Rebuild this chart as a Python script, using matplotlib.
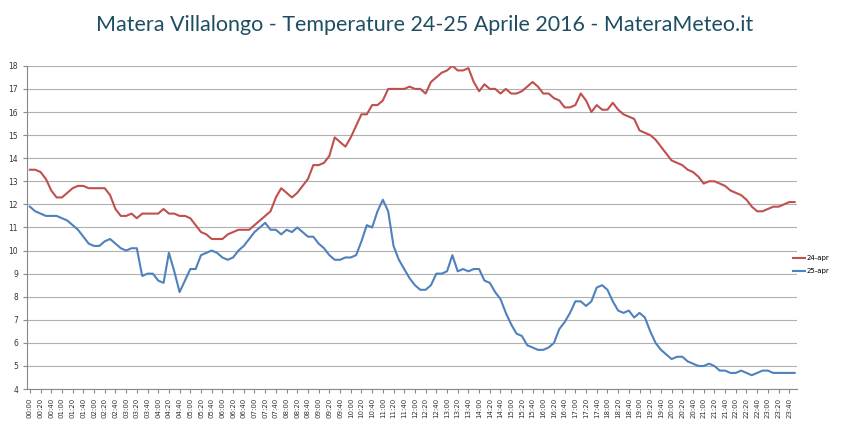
import matplotlib
matplotlib.use("Agg")
import matplotlib.pyplot as plt

times = [f"{h:02d}:{m:02d}" for h in range(24) for m in range(0, 60, 10)]
apr24 = [13.5,13.5,13.4,13.1,12.6,12.3, 12.3,12.5,12.7,12.8,12.8,12.7,
         12.7,12.7,12.7,12.4,11.8,11.5, 11.5,11.6,11.4,11.6,11.6,11.6,
         11.6,11.8,11.6,11.6,11.5,11.5, 11.4,11.1,10.8,10.7,10.5,10.5,
         10.5,10.7,10.8,10.9,10.9,10.9, 11.1,11.3,11.5,11.7,12.3,12.7,
         12.5,12.3,12.5,12.8,13.1,13.7, 13.7,13.8,14.1,14.9,14.7,14.5,
         14.9,15.4,15.9,15.9,16.3,16.3, 16.5,17.0,17.0,17.0,17.0,17.1,
         17.0,17.0,16.8,17.3,17.5,17.7, 17.8,18.0,17.8,17.8,17.9,17.3,
         16.9,17.2,17.0,17.0,16.8,17.0, 16.8,16.8,16.9,17.1,17.3,17.1,
         16.8,16.8,16.6,16.5,16.2,16.2, 16.3,16.8,16.5,16.0,16.3,16.1,
         16.1,16.4,16.1,15.9,15.8,15.7, 15.2,15.1,15.0,14.8,14.5,14.2,
         13.9,13.8,13.7,13.5,13.4,13.2, 12.9,13.0,13.0,12.9,12.8,12.6,
         12.5,12.4,12.2,11.9,11.7,11.7, 11.8,11.9,11.9,12.0,12.1,12.1]
apr25 = [11.9,11.7,11.6,11.5,11.5,11.5, 11.4,11.3,11.1,10.9,10.6,10.3,
         10.2,10.2,10.4,10.5,10.3,10.1, 10.0,10.1,10.1,8.9,9.0,9.0,
         8.7,8.6,9.9,9.1,8.2,8.7, 9.2,9.2,9.8,9.9,10.0,9.9,
         9.7,9.6,9.7,10.0,10.2,10.5, 10.8,11.0,11.2,10.9,10.9,10.7,
         10.9,10.8,11.0,10.8,10.6,10.6, 10.3,10.1,9.8,9.6,9.6,9.7,
         9.7,9.8,10.4,11.1,11.0,11.7, 12.2,11.7,10.2,9.6,9.2,8.8,
         8.5,8.3,8.3,8.5,9.0,9.0, 9.1,9.8,9.1,9.2,9.1,9.2,
         9.2,8.7,8.6,8.2,7.9,7.3, 6.8,6.4,6.3,5.9,5.8,5.7,
         5.7,5.8,6.0,6.6,6.9,7.3, 7.8,7.8,7.6,7.8,8.4,8.5,
         8.3,7.8,7.4,7.3,7.4,7.1, 7.3,7.1,6.5,6.0,5.7,5.5,
         5.3,5.4,5.4,5.2,5.1,5.0, 5.0,5.1,5.0,4.8,4.8,4.7,
         4.7,4.8,4.7,4.6,4.7,4.8, 4.8,4.7,4.7,4.7,4.7,4.7]
series_labels = ["24-apr", "25-apr"]
yticks = list(range(4, 19))

fig = plt.figure(figsize=(8.5, 4.22), dpi=100)
ax = fig.add_axes([0.032, 0.078, 0.906, 0.766])
x = list(range(len(times)))
ax.plot(x, apr24, color="#c0504d", lw=1.5, label=series_labels[0])
ax.plot(x, apr25, color="#4f81bd", lw=1.5, label=series_labels[1])
ax.set_xlim(-0.5, len(times) - 0.5)
ax.set_ylim(4, 18)
ax.set_yticks(yticks)
ax.set_yticklabels([str(v) for v in yticks], fontsize=5.5, color="#333333")
ax.set_xticks(x[::2])
ax.set_xticklabels(times[::2], rotation=90, fontsize=5, color="#333333")
ax.tick_params(axis="y", length=3, color="#888888")
ax.tick_params(axis="x", length=3, color="#888888")
ax.yaxis.grid(True, color="#b0b0b0", lw=0.8)
ax.set_axisbelow(True)
for s in ["top", "right"]:
    ax.spines[s].set_visible(False)
ax.spines["left"].set_color("#888888")
ax.spines["bottom"].set_color("#888888")
ax.legend(loc="center left", bbox_to_anchor=(0.995, 0.385), frameon=False,
          fontsize=5, handlelength=1.6, handletextpad=0.3, labelspacing=1.0,
          borderaxespad=0, borderpad=0)
fig.text(0.5, 0.94, "Matera Villalongo - Temperature 24-25 Aprile 2016 - MateraMeteo.it",
         ha="center", va="center", fontsize=15.5, color="#1f4e63", family="Lato")
fig.savefig("out.png", dpi=100)
